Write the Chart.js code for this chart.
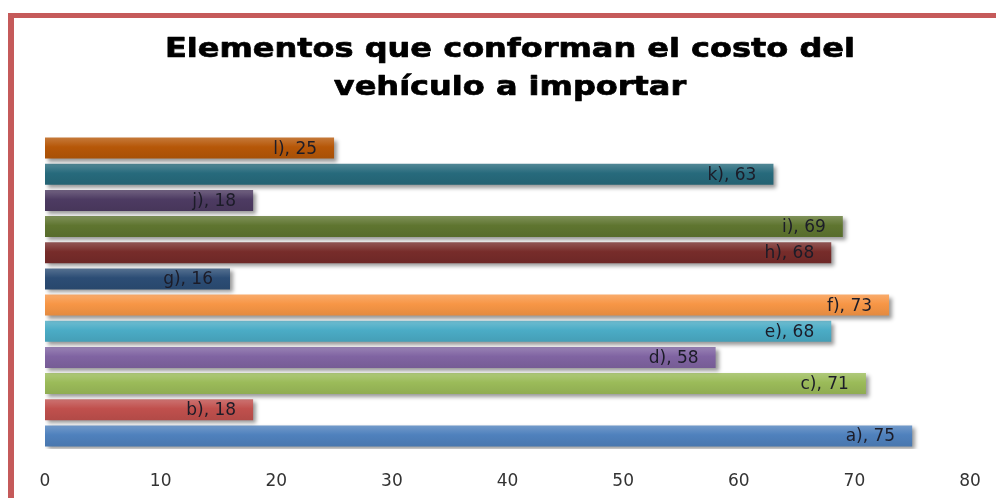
<!DOCTYPE html>
<html>
<head>
<meta charset="utf-8">
<script src="https://cdn.jsdelivr.net/npm/chart.js@4/dist/chart.umd.min.js"></script>
<style>
  html, body { margin: 0; padding: 0; background: #fff; overflow: hidden; }
  #wrap { position: relative; width: 996px; height: 498px; }
  #frame { position: absolute; left: 8px; top: 13px; width: 2000px; height: 2000px;
           border-top: 5px solid #C55A5A; border-left: 6px solid #C55A5A; box-sizing: border-box; }
  canvas { position: absolute; left: 0; top: 0; }
</style>
</head>
<body>
<div id="wrap">
  <div id="frame"></div>
  <canvas id="c" width="996" height="498"></canvas>
</div>
<script>
const titleLines = ['Elementos que conforman el costo del', 'vehículo a importar'];
const categories = ['a)', 'b)', 'c)', 'd)', 'e)', 'f)', 'g)', 'h)', 'i)', 'j)', 'k)', 'l)'];
const values = [75, 18, 71, 58, 68, 73, 16, 68, 69, 18, 63, 25];
const xTicks = [0, 10, 20, 30, 40, 50, 60, 70, 80];

const barColors = ['#4F81BD', '#C0504D', '#9BBB59', '#8064A2', '#4BACC6', '#F79646',
                   '#2C4D75', '#772C2A', '#5F7530', '#4D3B62', '#276A7C', '#B65708'];

function shade(hex, f) {
  const n = parseInt(hex.slice(1), 16);
  let r = (n >> 16) & 255, g = (n >> 8) & 255, b = n & 255;
  if (f >= 0) { r += (255 - r) * f; g += (255 - g) * f; b += (255 - b) * f; }
  else { r *= (1 + f); g *= (1 + f); b *= (1 + f); }
  return 'rgb(' + Math.round(r) + ',' + Math.round(g) + ',' + Math.round(b) + ')';
}

// Wide bold title (the reference title is horizontally stretched)
const wideTitlePlugin = {
  id: 'wideTitle',
  afterDraw(chart) {
    const ctx = chart.ctx;
    ctx.save();
    ctx.font = 'bold 26px "DejaVu Sans"';
    ctx.fillStyle = '#000';
    ctx.strokeStyle = '#000';
    ctx.lineWidth = 0.7;
    ctx.lineJoin = 'round';
    ctx.textAlign = 'center';
    ctx.textBaseline = 'alphabetic';
    const cx = 510, sx = 1.23;
    const baselines = [57, 95];
    titleLines.forEach((t, i) => {
      ctx.save();
      ctx.translate(cx, baselines[i]);
      ctx.scale(sx, 1);
      ctx.fillText(t, 0, 0);
      ctx.strokeText(t, 0, 0);
      ctx.restore();
    });
    ctx.restore();
  }
};

const shadowPlugin = {
  id: 'shadow',
  beforeDatasetsDraw(chart) {
    const ctx = chart.ctx;
    ctx.save();
    ctx.shadowColor = 'rgba(0,0,0,0.4)';
    ctx.shadowOffsetX = 3;
    ctx.shadowOffsetY = 3;
    ctx.shadowBlur = 4;
  },
  afterDatasetsDraw(chart) {
    const ctx = chart.ctx;
    ctx.restore();
    const meta = chart.getDatasetMeta(0);
    ctx.save();
    ctx.font = '17px "DejaVu Sans"';
    ctx.fillStyle = '#1c1c28';
    ctx.textAlign = 'right';
    ctx.textBaseline = 'middle';
    meta.data.forEach((el, i) => {
      ctx.fillText(categories[i] + ', ' + values[i], el.x - 17, el.y + 1);
    });
    ctx.restore();
  }
};

const ctx = document.getElementById('c').getContext('2d');
new Chart(ctx, {
  type: 'bar',
  data: {
    labels: categories,
    datasets: [{
      data: values,
      backgroundColor(context) {
        const chart = context.chart;
        const base = barColors[context.dataIndex % barColors.length];
        const ys = chart.scales.y;
        if (!ys || !chart.chartArea) return base;
        const c = ys.getPixelForValue(context.dataIndex);
        const h = Math.abs(ys.getPixelForValue(1) - ys.getPixelForValue(0)) * 0.4;
        if (!isFinite(c) || !isFinite(h) || h === 0) return base;
        const g = chart.ctx.createLinearGradient(0, c - h, 0, c + h);
        g.addColorStop(0, shade(base, 0.2));
        g.addColorStop(0.45, base);
        g.addColorStop(1, shade(base, -0.08));
        return g;
      },
      borderWidth: 0,
      categoryPercentage: 1.0,
      barPercentage: 0.8
    }]
  },
  options: {
    indexAxis: 'y',
    responsive: false,
    animation: false,
    layout: { padding: { left: 45, right: 26, top: 135, bottom: 0 } },
    plugins: {
      legend: { display: false },
      tooltip: { enabled: false },
      title: { display: false }
    },
    scales: {
      x: {
        min: 0, max: 80,
        afterBuildTicks(axis) { axis.ticks = xTicks.map(v => ({ value: v })); },
        afterFit(axis) {
          axis.height = 49;
          axis.paddingLeft = 10;
          axis.paddingRight = 10;
        },
        grid: { display: false, drawTicks: false },
        border: { display: false },
        ticks: {
          font: { family: '"DejaVu Sans"', size: 17 },
          color: '#333',
          padding: 22,
          maxRotation: 0
        }
      },
      y: {
        reverse: true,
        display: false,
        grid: { display: false }
      }
    }
  },
  plugins: [shadowPlugin, wideTitlePlugin]
});
</script>
</body>
</html>
